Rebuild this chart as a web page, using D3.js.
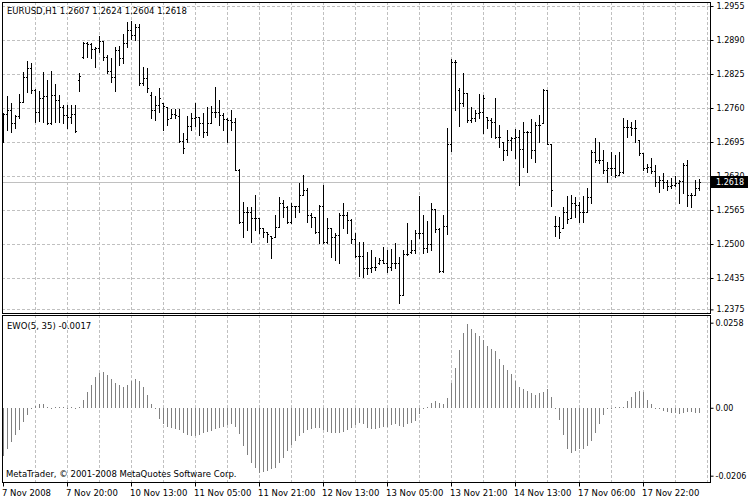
<!DOCTYPE html>
<html><head><meta charset="utf-8">
<script src="https://cdn.jsdelivr.net/npm/d3@7"></script>
<style>
body{margin:0;background:#fff}
svg{display:block}
text{font-family:"DejaVu Sans",sans-serif;font-size:8.5px;fill:#000}
</style>
</head><body>
<svg id="c" width="750" height="500"></svg>
<script>
const symbolTitle = "EURUSD,H1  1.2607 1.2624 1.2604 1.2618";
const indicatorTitle = "EWO(5, 35) -0.0017";
const copyright = "MetaTrader, \u00A9 2001-2008 MetaQuotes Software Corp.";
const timeLabels = ["7 Nov 2008","7 Nov 20:00","10 Nov 13:00","11 Nov 05:00","11 Nov 21:00","12 Nov 13:00","13 Nov 05:00","13 Nov 21:00","14 Nov 13:00","17 Nov 06:00","17 Nov 22:00"];
const priceTicks = [1.2955,1.2890,1.2825,1.2760,1.2695,1.2630,1.2565,1.2500,1.2435,1.2375];
const ewoTicks = [0.0258,0,-0.0206];
const lastPrice = 1.2618;

const opens=[1.2746,1.2748,1.2756,1.2731,1.2744,1.2772,1.2820,1.2837,1.2795,1.2752,
1.2780,1.2783,1.2731,1.2785,1.2776,1.2761,1.2746,1.2742,1.2748,1.2814,
1.2858,1.2884,1.2882,1.2873,1.2875,1.2888,1.2858,1.2831,1.2820,1.2871,
1.2856,1.2884,1.2909,1.2900,1.2915,1.2808,1.2818,1.2785,1.2756,1.2765,
1.2770,1.2761,1.2741,1.2748,1.2744,1.2697,1.2701,1.2725,1.2741,1.2742,
1.2731,1.2714,1.2731,1.2752,1.2752,1.2746,1.2739,1.2737,1.2733,1.2642,
1.2542,1.2562,1.2562,1.2550,1.2550,1.2531,1.2523,1.2516,1.2514,1.2533,
1.2579,1.2570,1.2542,1.2572,1.2572,1.2594,1.2604,1.2556,1.2552,1.2523,
1.2573,1.2504,1.2531,1.2514,1.2518,1.2556,1.2556,1.2546,1.2510,1.2478,
1.2478,1.2455,1.2455,1.2457,1.2464,1.2470,1.2464,1.2457,1.2464,1.2464,
1.2403,1.2481,1.2485,1.2489,1.2521,1.2521,1.2493,1.2500,1.2566,1.2529,
1.2449,1.2535,1.2691,1.2848,1.2795,1.2770,1.2789,1.2737,1.2741,1.2750,
1.2752,1.2742,1.2737,1.2733,1.2705,1.2695,1.2680,1.2699,1.2703,1.2705,
1.2682,1.2714,1.2714,1.2680,1.2727,1.2731,1.2795,1.2691,1.2535,1.2535,
1.2531,1.2562,1.2550,1.2579,1.2575,1.2562,1.2562,1.2589,1.2676,1.2661,
1.2661,1.2642,1.2646,1.2646,1.2632,1.2638,1.2724,1.2724,1.2722,1.2699,
1.2674,1.2646,1.2648,1.2640,1.2619,1.2623,1.2619,1.2610,1.2613,1.2617,
1.2621,1.2651,1.2594,1.2594,1.2607];
const highs=[1.2750,1.2782,1.2770,1.2746,1.2787,1.2829,1.2850,1.2846,1.2797,1.2793,
1.2829,1.2814,1.2831,1.2806,1.2785,1.2766,1.2765,1.2765,1.2765,1.2827,
1.2886,1.2886,1.2884,1.2877,1.2898,1.2888,1.2861,1.2856,1.2877,1.2879,
1.2902,1.2924,1.2926,1.2920,1.2920,1.2839,1.2837,1.2791,1.2782,1.2799,
1.2770,1.2761,1.2759,1.2759,1.2759,1.2712,1.2744,1.2750,1.2770,1.2742,
1.2750,1.2761,1.2763,1.2801,1.2776,1.2750,1.2741,1.2756,1.2741,1.2644,
1.2581,1.2570,1.2570,1.2594,1.2550,1.2531,1.2523,1.2516,1.2556,1.2589,
1.2585,1.2572,1.2579,1.2572,1.2617,1.2631,1.2608,1.2560,1.2552,1.2575,
1.2613,1.2550,1.2531,1.2521,1.2560,1.2579,1.2562,1.2548,1.2521,1.2504,
1.2504,1.2485,1.2489,1.2476,1.2474,1.2495,1.2489,1.2491,1.2502,1.2476,
1.2489,1.2540,1.2508,1.2527,1.2591,1.2556,1.2544,1.2579,1.2566,1.2531,
1.2556,1.2722,1.2854,1.2852,1.2799,1.2827,1.2789,1.2761,1.2756,1.2787,
1.2785,1.2742,1.2741,1.2780,1.2727,1.2695,1.2718,1.2705,1.2720,1.2718,
1.2733,1.2716,1.2739,1.2733,1.2746,1.2797,1.2795,1.2691,1.2554,1.2552,
1.2570,1.2591,1.2594,1.2589,1.2581,1.2591,1.2608,1.2680,1.2703,1.2695,
1.2680,1.2657,1.2676,1.2670,1.2676,1.2741,1.2737,1.2733,1.2737,1.2699,
1.2674,1.2653,1.2665,1.2651,1.2630,1.2636,1.2623,1.2627,1.2630,1.2623,
1.2655,1.2661,1.2598,1.2623,1.2624];
const lows=[1.2695,1.2718,1.2714,1.2722,1.2741,1.2772,1.2791,1.2789,1.2733,1.2735,
1.2733,1.2729,1.2729,1.2733,1.2733,1.2731,1.2722,1.2731,1.2714,1.2793,
1.2856,1.2858,1.2856,1.2839,1.2867,1.2852,1.2827,1.2810,1.2793,1.2842,
1.2846,1.2877,1.2892,1.2890,1.2804,1.2804,1.2791,1.2741,1.2737,1.2752,
1.2718,1.2727,1.2741,1.2741,1.2695,1.2674,1.2695,1.2718,1.2725,1.2708,
1.2705,1.2708,1.2731,1.2742,1.2727,1.2718,1.2695,1.2718,1.2642,1.2540,
1.2514,1.2527,1.2504,1.2527,1.2521,1.2514,1.2504,1.2474,1.2514,1.2533,
1.2552,1.2540,1.2540,1.2552,1.2562,1.2594,1.2542,1.2533,1.2521,1.2502,
1.2502,1.2502,1.2476,1.2470,1.2464,1.2531,1.2521,1.2502,1.2476,1.2438,
1.2436,1.2442,1.2447,1.2451,1.2461,1.2464,1.2447,1.2451,1.2455,1.2388,
1.2403,1.2479,1.2483,1.2483,1.2512,1.2483,1.2485,1.2489,1.2523,1.2447,
1.2447,1.2519,1.2678,1.2756,1.2725,1.2763,1.2733,1.2733,1.2735,1.2741,
1.2712,1.2722,1.2705,1.2703,1.2686,1.2661,1.2670,1.2680,1.2665,1.2613,
1.2648,1.2638,1.2665,1.2657,1.2695,1.2731,1.2691,1.2572,1.2516,1.2512,
1.2531,1.2540,1.2550,1.2552,1.2542,1.2542,1.2562,1.2579,1.2657,1.2655,
1.2636,1.2619,1.2632,1.2628,1.2632,1.2636,1.2705,1.2708,1.2695,1.2670,
1.2642,1.2638,1.2636,1.2611,1.2600,1.2608,1.2604,1.2608,1.2611,1.2579,
1.2598,1.2572,1.2570,1.2594,1.2604];
const closes=[1.2748,1.2756,1.2731,1.2744,1.2772,1.2820,1.2837,1.2795,1.2752,1.2780,
1.2783,1.2731,1.2785,1.2776,1.2761,1.2746,1.2742,1.2748,1.2716,1.2822,
1.2884,1.2882,1.2873,1.2875,1.2888,1.2858,1.2831,1.2820,1.2871,1.2856,
1.2884,1.2909,1.2900,1.2915,1.2808,1.2818,1.2799,1.2756,1.2765,1.2780,
1.2763,1.2739,1.2748,1.2746,1.2697,1.2684,1.2725,1.2741,1.2742,1.2731,
1.2714,1.2731,1.2752,1.2752,1.2746,1.2739,1.2737,1.2733,1.2642,1.2542,
1.2562,1.2562,1.2550,1.2550,1.2531,1.2523,1.2519,1.2512,1.2533,1.2579,
1.2570,1.2542,1.2572,1.2572,1.2594,1.2604,1.2556,1.2552,1.2523,1.2573,
1.2504,1.2531,1.2514,1.2518,1.2556,1.2556,1.2546,1.2510,1.2478,1.2478,
1.2455,1.2455,1.2457,1.2457,1.2470,1.2464,1.2457,1.2464,1.2464,1.2403,
1.2481,1.2481,1.2489,1.2521,1.2521,1.2493,1.2500,1.2566,1.2529,1.2449,
1.2535,1.2691,1.2848,1.2848,1.2770,1.2789,1.2737,1.2741,1.2750,1.2752,
1.2780,1.2737,1.2733,1.2705,1.2705,1.2680,1.2699,1.2703,1.2705,1.2682,
1.2714,1.2714,1.2680,1.2727,1.2727,1.2795,1.2691,1.2604,1.2535,1.2523,
1.2562,1.2548,1.2579,1.2575,1.2562,1.2562,1.2589,1.2676,1.2661,1.2661,
1.2642,1.2646,1.2646,1.2632,1.2638,1.2724,1.2724,1.2722,1.2722,1.2674,
1.2646,1.2648,1.2640,1.2619,1.2623,1.2619,1.2610,1.2613,1.2617,1.2621,
1.2651,1.2594,1.2594,1.2608,1.2618];
const ewo=[-0.0147,-0.0126,-0.0104,-0.0084,-0.0066,-0.0044,-0.0023,-0.0003,0.0005,0.0010,
0.0010,0.0002,-0.0001,0.0001,0.0001,0.0002,-0.0002,0.0003,-0.0005,0.0003,
0.0023,0.0047,0.0070,0.0094,0.0106,0.0108,0.0098,0.0086,0.0076,0.0068,
0.0064,0.0068,0.0082,0.0086,0.0082,0.0064,0.0040,0.0010,-0.0005,-0.0035,
-0.0050,-0.0057,-0.0060,-0.0063,-0.0067,-0.0075,-0.0083,-0.0085,-0.0087,-0.0083,
-0.0077,-0.0073,-0.0070,-0.0065,-0.0060,-0.0057,-0.0053,-0.0050,-0.0057,-0.0081,
-0.0116,-0.0144,-0.0168,-0.0184,-0.0197,-0.0195,-0.0192,-0.0187,-0.0182,-0.0168,
-0.0151,-0.0131,-0.0114,-0.0101,-0.0087,-0.0075,-0.0067,-0.0063,-0.0060,-0.0060,
-0.0067,-0.0073,-0.0075,-0.0077,-0.0077,-0.0073,-0.0067,-0.0060,-0.0053,-0.0047,
-0.0050,-0.0060,-0.0063,-0.0063,-0.0060,-0.0057,-0.0057,-0.0053,-0.0050,-0.0055,
-0.0057,-0.0050,-0.0047,-0.0040,-0.0020,-0.0003,0.0003,0.0013,0.0020,0.0013,
0.0010,0.0030,0.0074,0.0121,0.0175,0.0227,0.0253,0.0240,0.0227,0.0217,
0.0205,0.0187,0.0179,0.0172,0.0148,0.0131,0.0114,0.0101,0.0081,0.0064,
0.0058,0.0051,0.0046,0.0040,0.0044,0.0048,0.0056,0.0034,-0.0001,-0.0037,
-0.0084,-0.0124,-0.0136,-0.0131,-0.0126,-0.0124,-0.0116,-0.0101,-0.0076,-0.0050,
-0.0023,-0.0005,0.0000,0.0001,0.0002,0.0003,0.0020,0.0034,0.0048,0.0051,
0.0048,0.0025,0.0010,-0.0003,-0.0005,-0.0010,-0.0013,-0.0015,-0.0017,-0.0020,
-0.0015,-0.0013,-0.0013,-0.0015,-0.0017];

const svg = d3.select("#c");
svg.append("rect").attr("width",750).attr("height",500).attr("fill","#fff");

const n = closes.length;
const x = d3.scaleLinear().domain([0, n-1]).range([3, 3 + 4*(n-1)]);
const yP = d3.scaleLinear().domain([1.2375, 1.2955]).range([309.4, 6]);
const yE = d3.scaleLinear().domain([-0.0206, 0.0258]).range([475.7, 322.7]);

const L = 2, R = 710, T1 = 2, B1 = 313, T2 = 315, B2 = 482;
const gridCol = "#c0c0c0";
const axisFont = '"DejaVu Sans",sans-serif';
const fmt4 = v => d3.format(".4f")(v).replace("\u2212","-");

// vertical grid
const vIdx = d3.range(8, 177, 8);
[[T1,B1],[T2,B2]].forEach(([t,b]) => {
  svg.append("g").selectAll("line").data(vIdx).join("line")
    .attr("x1", d => Math.round(x(d))+0.5).attr("x2", d => Math.round(x(d))+0.5)
    .attr("y1", t).attr("y2", b)
    .attr("stroke", gridCol).attr("stroke-dasharray","3,2");
});
// horizontal grid (main)
svg.append("g").selectAll("line").data(priceTicks).join("line")
  .attr("x1", L).attr("x2", R)
  .attr("y1", d => Math.round(yP(d))+0.5).attr("y2", d => Math.round(yP(d))+0.5)
  .attr("stroke", gridCol).attr("stroke-dasharray","3,2");

// current price line
svg.append("line").attr("x1",L).attr("x2",R)
  .attr("y1", Math.round(yP(lastPrice))+0.5).attr("y2", Math.round(yP(lastPrice))+0.5)
  .attr("stroke","#c0c0c0");

// OHLC bars
const idx = d3.range(n);
const bars = svg.append("g").attr("fill","#000");
bars.selectAll("rect.v").data(idx).join("rect").attr("class","v")
  .attr("x", i => Math.round(x(i))).attr("width",1)
  .attr("y", i => Math.round(yP(highs[i])))
  .attr("height", i => Math.max(1, Math.round(yP(lows[i])) - Math.round(yP(highs[i])) + 1));
bars.selectAll("rect.o").data(idx).join("rect").attr("class","o")
  .attr("x", i => Math.round(x(i))-1).attr("width",1)
  .attr("y", i => Math.round(yP(opens[i]))).attr("height",1);
bars.selectAll("rect.c").data(idx).join("rect").attr("class","c")
  .attr("x", i => Math.round(x(i))+1).attr("width",1)
  .attr("y", i => Math.round(yP(closes[i]))).attr("height",1);

// EWO histogram
const z = Math.round(yE(0));
svg.append("g").attr("fill","#808080").selectAll("rect").data(idx).join("rect")
  .attr("x", i => Math.round(x(i))).attr("width",1)
  .attr("y", i => ewo[i] >= 0 ? Math.round(yE(ewo[i])) : z)
  .attr("height", i => Math.max(1, Math.abs(Math.round(yE(ewo[i])) - z)));

// panel borders
svg.append("rect").attr("x",L+0.5).attr("y",T1+0.5).attr("width",R-L).attr("height",B1-T1)
  .attr("fill","none").attr("stroke","#000");
svg.append("rect").attr("x",L+0.5).attr("y",T2+0.5).attr("width",R-L).attr("height",B2-T2)
  .attr("fill","none").attr("stroke","#000");

// right price axis
const ax1 = svg.append("g").attr("transform",`translate(${R+0.5},0)`)
  .call(d3.axisRight(yP).tickValues(priceTicks).tickSize(3).tickPadding(3).tickFormat(fmt4));
ax1.select(".domain").remove();
ax1.selectAll("text").style("font-family",axisFont).style("font-size","8px");

// EWO axis
const ax2 = svg.append("g").attr("transform",`translate(${R+0.5},0)`)
  .call(d3.axisRight(yE).tickValues(ewoTicks).tickSize(3).tickPadding(2)
    .tickFormat(d => d === 0 ? "0.00" : fmt4(d)));
ax2.select(".domain").remove();
ax2.selectAll("text").style("font-family",axisFont).style("font-size","8px");

// current price label
const yl = Math.round(yP(lastPrice));
svg.append("rect").attr("x",711).attr("y",yl-6).attr("width",37).attr("height",12).attr("fill","#000");
svg.append("text").attr("x",716).attr("y",yl+3).text(fmt4(lastPrice))
  .style("fill","#fff").style("font-size","8px");

// time axis
const tIdx = d3.range(0, 161, 16);
const ax3 = svg.append("g").attr("transform",`translate(0,${B2+0.5})`)
  .call(d3.axisBottom(x).tickValues(tIdx).tickSize(4).tickPadding(3)
    .tickFormat((d,k) => timeLabels[k]));
ax3.select(".domain").remove();
ax3.selectAll("text").attr("text-anchor","start").attr("dx", -1.5)
  .style("font-family",axisFont).style("font-size","8.5px");

// titles
svg.append("text").attr("x",7).attr("y",14).text(symbolTitle);
svg.append("text").attr("x",7).attr("y",329).text(indicatorTitle);
svg.append("text").attr("x",6).attr("y",477).text(copyright);
</script>
</body></html>
